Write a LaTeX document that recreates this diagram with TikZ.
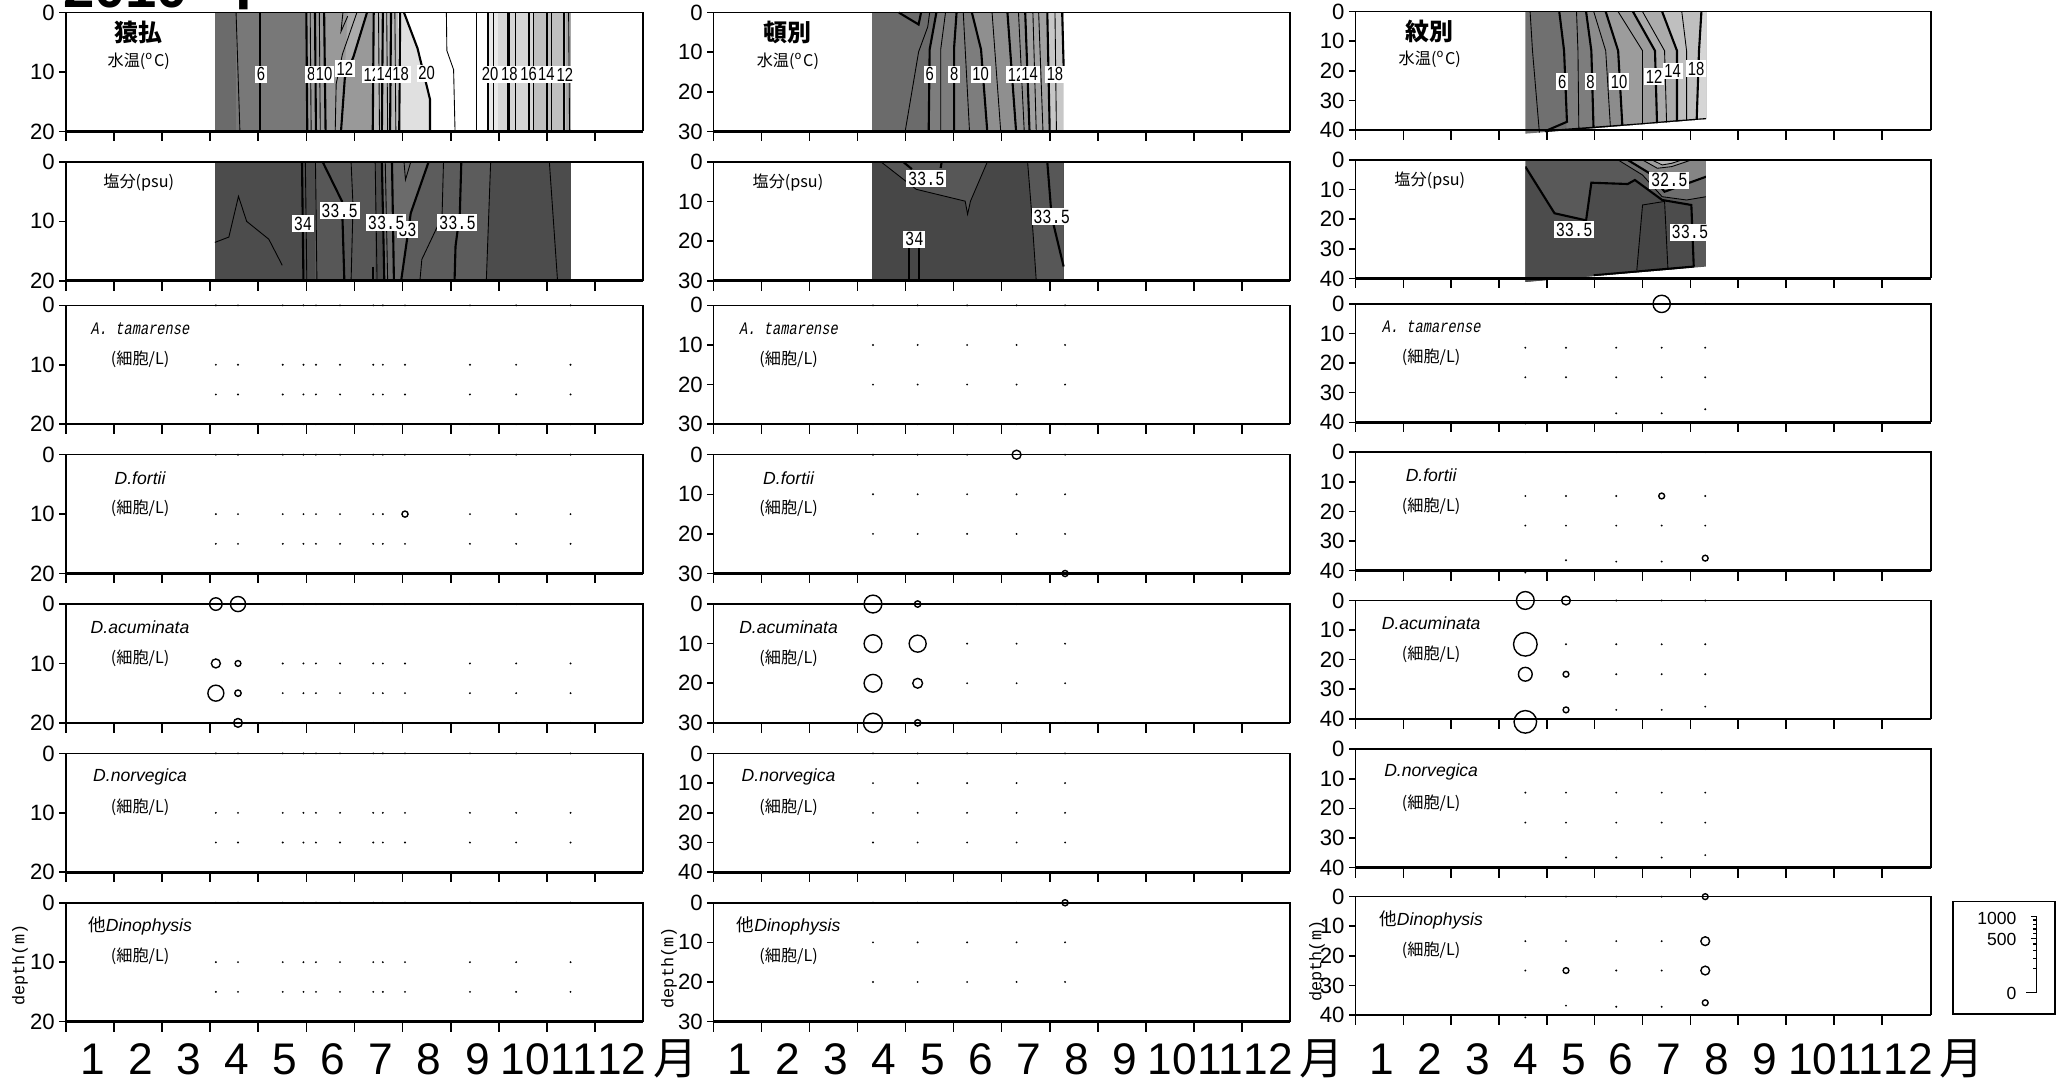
\documentclass[tikz,border=0pt]{standalone}
\usepackage{fontspec}
\setmainfont{Liberation Sans}
\newfontfamily\jpfont{Noto Sans CJK JP}
\newfontfamily\monofont{Liberation Mono}
\newfontfamily\narrowsans[FakeStretch=0.78]{Liberation Sans}
\newfontfamily\narrowmono[FakeStretch=0.76]{Liberation Mono}
\newfontfamily\slantmono[FakeStretch=0.78,FakeSlant=0.18]{Liberation Mono}

% sampling dates (month position) of each station
\def\datesA{3.12,3.58,4.51,4.94,5.20,5.70,6.39,6.59,7.05,8.40,9.36,10.49}
\def\datesB{3.32,4.25,5.28,6.31,7.32}
\def\datesC{3.55,4.40,5.45,6.40,7.31}

\begin{document}
\begin{tikzpicture}[x=0.13276mm,y=-0.13276mm,
  frame/.style={line width=0.45pt},
  baseaxis/.style={line width=0.75pt},
  ticklab/.style={font=\fontsize{6.3}{7}\selectfont,inner sep=1pt},
  scalelab/.style={font=\fontsize{5}{6}\selectfont,inner sep=1pt,anchor=east},
  station/.style={font=\jpfont\bfseries\fontsize{6.8}{7}\selectfont},
  unitlab/.style={font=\jpfont\fontsize{4.6}{6}\selectfont},
  species/.style={font=\fontsize{5}{6}\selectfont\itshape},
  monospecies/.style={font=\slantmono\fontsize{5}{6}\selectfont},
  tlab/.style={fill=white,inner sep=0.5pt,font=\narrowsans\fontsize{5.4}{6}\selectfont},
  slab/.style={fill=white,inner sep=0.5pt,font=\narrowmono\fontsize{5.7}{6}\selectfont},
  monthlab/.style={font=\fontsize{12.6}{14}\selectfont,inner sep=0pt,anchor=base},
  cthick/.style={line width=0.6pt},
  cthin/.style={line width=0.25pt},
  bubble/.style={draw=black,line width=0.4pt,fill=white},
  colA/.style={shift={(49.5,#1)},x=4.8126mm,y=-11.882mm},
  colB/.style={shift={(537.5,#1)},x=4.802mm,y=-11.882mm},
  colC/.style={shift={(1021,#1)},x=4.785mm,y=-11.842mm}]
\useasboundingbox (0,0) rectangle (1560,816);
\clip (0,0) rectangle (1560,816);

% year, cut by the top edge
\node[font=\bfseries\fontsize{16}{18}\selectfont,anchor=base west,inner sep=0] (year) at (47,6) {2010};
\node[font=\jpfont\bfseries\fontsize{16}{18}\selectfont,anchor=base,inner sep=0] (nen) at (181,3.5) {年};

% ---------- 猿払 水温 ----------
\begin{scope}[colA=9.5]
  \fill[black!58] (3.10,0) rectangle (3.54,1);
  \fill[black!53] (3.54,0) rectangle (5.0,1);
  \fill[black!40] (5.0,0) rectangle (6.40,1);
  \fill[black!33] (5.86,0) -- (6.26,0) -- (5.98,.37) -- (5.80,.5) -- cycle;
  \fill[black!28] (6.40,0) rectangle (6.90,1);
  \fill[black!12] (6.90,0) -- (7.03,0) -- (7.31,.3) -- (7.57,.73) -- (7.57,1) -- (6.90,1) -- cycle;
  \fill[black!9] (8.79,0) rectangle (8.99,1);
  \fill[black!16] (8.99,0) rectangle (9.72,1);
  \fill[black!25] (9.72,0) rectangle (10.40,1);
  \fill[black!34] (10.40,0) rectangle (10.50,1);
  \foreach \a/\b in {3.54/3.62,5.08/5.10,5.27/5.29,6.50/6.52,6.67/6.69,6.84/6.86,8.54/8.54,8.88/8.88,9.34/9.34,9.72/9.72,10.10/10.10,10.45/10.47}
    \draw[cthin] (\a,0) -- (\b,1);
  \foreach \a/\b in {4.04/4.04,5.0/5.02,5.18/5.20,5.37/5.40,6.40/6.38,6.59/6.57,6.76/6.74,6.95/6.93,8.77/8.77,9.20/9.20,9.62/9.62,10.0/10.0,10.35/10.35}
    \draw[cthick] (\a,0) -- (\b,1);
  \draw[cthick] (6.26,0) -- (5.98,.37) -- (5.80,.55) -- (5.72,1);
  \draw[cthin] (6.05,0) -- (5.75,.35) -- (5.62,.6) -- (5.60,1);
  \draw[cthick] (7.03,0) -- (7.31,.3) -- (7.57,.73) -- (7.57,1);
  \draw[cthin] (7.91,0) -- (7.92,.32) -- (8.06,.48) -- (8.09,1);
  \draw[cthin] (5.76,0) -- (5.72,.16) -- (5.86,.03);
  \node[tlab] (ta1) at (4.06,.52) {6};
  \node[tlab] (ta2) at (5.10,.52) {8};
  \node[tlab] (ta3) at (5.37,.52) {10};
  \node[tlab] (ta4) at (5.80,.47) {12};
  \node[tlab] (ta5) at (6.36,.52) {12};
  \node[tlab] (ta6) at (6.63,.52) {14};
  \node[tlab] (ta7) at (6.96,.52) {18};
  \node[tlab] (ta8) at (7.50,.51) {20};
  \node[tlab] (ta9) at (8.82,.52) {20};
  \node[tlab] (ta10) at (9.22,.52) {18};
  \node[tlab] (ta11) at (9.62,.52) {16};
  \node[tlab] (ta12) at (9.99,.52) {14};
  \node[tlab] (ta13) at (10.37,.52) {12};
\end{scope}

% ---------- 猿払 塩分 ----------
\begin{scope}[colA=122]
  \fill[black!70] (3.10,0) rectangle (10.50,1);
  \fill[black!66] (5.19,0) rectangle (6.43,1);
  \fill[black!58] (6.57,0) -- (7.54,0) -- (7.17,.43) -- (6.97,1) -- (6.60,1) -- cycle;
  \fill[black!64] (7.54,0) -- (8.83,0) -- (8.74,1) -- (6.97,1) -- (7.17,.43) -- cycle;
  \draw[cthin] (3.10,.677) -- (3.39,.632) -- (3.59,.289) -- (3.76,.50) -- (4.22,.65) -- (4.50,.87);
  \foreach \a/\b in {4.98/5.01,5.19/5.22,6.43/6.47,6.64/6.69,8.83/8.74,10.05/10.22}
    \draw[cthin] (\a,0) -- (\b,1);
  \foreach \a/\b in {4.91/4.94,6.57/6.62,6.78/6.82}
    \draw[cthick] (\a,0) -- (\b,1);
  \draw[cthick] (5.34,0) -- (5.74,.33) -- (5.79,1);
  \draw[cthin] (5.93,0) -- (5.97,.37) -- (5.93,1);
  \draw[cthin] (7.03,0) -- (7.06,.15) -- (7.17,0);
  \draw[cthick] (7.54,0) -- (7.17,.43) -- (6.97,1);
  \draw[cthin] (7.85,0) -- (7.82,.46) -- (7.40,.82) -- (7.36,1);
  \draw[cthick] (8.22,0) -- (8.19,.43) -- (8.10,.71) -- (8.08,1);
  \draw[cthick] (6.39,.88) -- (6.39,1);
  \node[slab] (sa1) at (4.93,.52) {34};
  \node[slab] (sa2) at (5.69,.41) {33.5};
  \node[slab] (sa3) at (7.10,.57) {33};
  \node[slab] (sa4) at (6.66,.51) {33.5};
  \node[slab] (sa5) at (8.14,.51) {33.5};
\end{scope}

% ---------- 頓別 水温 ----------
\begin{scope}[colB=9.5]
  \fill[black!58] (3.30,0) -- (4.64,0) -- (4.50,.31) -- (4.48,1) -- (3.30,1) -- cycle;
  \fill[black!51] (4.64,0) -- (5.38,0) -- (5.57,.31) -- (5.70,1) -- (4.48,1) -- (4.50,.31) -- cycle;
  \fill[black!44] (5.38,0) -- (6.49,0) -- (6.58,1) -- (5.70,1) -- (5.57,.31) -- cycle;
  \fill[black!37] (6.49,0) -- (6.95,0) -- (7.0,1) -- (6.58,1) -- cycle;
  \fill[black!22] (6.95,0) -- (7.29,0) -- (7.29,1) -- (7.0,1) -- cycle;
  \draw[cthick] (3.86,0) -- (4.27,.10) -- (4.32,0);
  \draw[cthin] (4.50,0) -- (4.46,.12) -- (4.27,.33) -- (3.99,1);
  \draw[cthick] (4.64,0) -- (4.50,.31) -- (4.48,1);
  \draw[cthin] (4.83,0) -- (4.73,.31) -- (4.73,1);
  \draw[cthick] (5.06,0) -- (5.01,.29) -- (5.01,1);
  \draw[cthick] (5.38,0) -- (5.57,.31) -- (5.70,1);
  \foreach \a/\b in {5.20/5.33,5.80/5.98,6.35/6.47,6.65/6.72,6.77/6.86,7.11/7.14}
    \draw[cthin] (\a,0) -- (\b,1);
  \foreach \a/\b in {6.12/6.30,6.49/6.58,6.95/7.0}
    \draw[cthick] (\a,0) -- (\b,1);
  \draw[cthick] (7.26,0) -- (7.29,.45);
  \node[tlab] (tb1) at (4.50,.52) {6};
  \node[tlab] (tb2) at (5.01,.52) {8};
  \node[tlab] (tb3) at (5.56,.52) {10};
  \node[tlab] (tb4) at (6.30,.52) {12};
  \node[tlab] (tb5) at (6.58,.52) {14};
  \node[tlab] (tb6) at (7.11,.52) {18};
\end{scope}

% ---------- 頓別 塩分 ----------
\begin{scope}[colB=122]
  \fill[black!72] (3.30,0) rectangle (7.29,1);
  \fill[black!66] (3.49,0) -- (4.22,.23) -- (5.24,.33) -- (5.29,.44) -- (5.35,.33) -- (5.70,0) -- cycle;
  \fill[black!66] (6.54,0) -- (6.63,.46) -- (6.72,1) -- (7.29,1) -- (7.29,0) -- cycle;
  \draw[cthin] (3.49,0) -- (4.22,.23) -- (5.24,.33) -- (5.29,.44) -- (5.35,.33) -- (5.70,0);
  \draw[cthick] (3.95,0) -- (4.13,.06);
  \draw[cthick] (4.75,0) -- (4.73,.05);
  \draw[cthick] (4.07,.68) -- (4.07,1);
  \draw[cthick] (4.27,.68) -- (4.27,1);
  \draw[cthin] (6.54,0) -- (6.63,.46) -- (6.72,1);
  \draw[cthick] (6.95,0) -- (7.04,.46) -- (7.29,.88);
  \node[slab] (sb1) at (4.43,.14) {33.5};
  \node[slab] (sb2) at (4.18,.65) {34};
  \node[slab] (sb3) at (7.04,.46) {33.5};
\end{scope}

% ---------- 紋別 水温 ----------
\begin{scope}[colC=8.8]
  \begin{scope}
    \clip (3.55,0) -- (7.33,0) -- (7.33,.907) -- (3.55,1.03) -- cycle;
    \fill[black!56] (3.55,0) rectangle (7.33,1.1);
    \fill[black!51] (4.26,0) -- (4.36,.33) -- (4.42,1.1) -- (7.4,1.1) -- (7.4,0) -- cycle;
    \fill[black!45] (4.82,0) -- (4.93,.33) -- (4.98,1.1) -- (7.4,1.1) -- (7.4,0) -- cycle;
    \fill[black!39] (5.23,0) -- (5.49,.33) -- (5.59,1.1) -- (7.4,1.1) -- (7.4,0) -- cycle;
    \fill[black!33] (5.80,0) -- (6.26,.33) -- (6.31,1.1) -- (7.4,1.1) -- (7.4,0) -- cycle;
    \fill[black!25] (6.41,0) -- (6.72,.33) -- (6.72,1.1) -- (7.4,1.1) -- (7.4,0) -- cycle;
    \fill[black!16] (7.23,0) -- (7.18,.33) -- (7.12,1.1) -- (7.4,1.1) -- (7.4,0) -- cycle;
    \foreach \a/\b/\c in {3.65/3.70/3.85,4.62/4.65/4.67,4.98/5.23/5.34,5.49/6.00/6.00,6.00/6.46/6.51,6.82/6.92/6.92}
      \draw[cthin] (\a,0) -- (\b,.33) -- (\c,1.05);
    \foreach \a/\b/\c in {4.82/4.93/4.98,5.23/5.49/5.59,5.80/6.26/6.31,6.41/6.72/6.72,7.23/7.18/7.12}
      \draw[cthick] (\a,0) -- (\b,.33) -- (\c,1.05);
    \draw[cthick] (4.26,0) -- (4.36,.33) -- (4.42,.93) -- (3.96,1.01);
    \draw[cthick] (3.96,1.01) -- (4.98,.98) -- (6.00,.95) -- (6.72,.925) -- (7.33,.907);
  \end{scope}
  \node[tlab] (tc1) at (4.32,.59) {6};
  \node[tlab] (tc2) at (4.91,.59) {8};
  \node[tlab] (tc3) at (5.51,.59) {10};
  \node[tlab] (tc4) at (6.24,.55) {12};
  \node[tlab] (tc5) at (6.63,.50) {14};
  \node[tlab] (tc6) at (7.12,.48) {18};
\end{scope}

% ---------- 紋別 塩分 ----------
\begin{scope}[colC=120.5]
  \begin{scope}
    \clip (3.55,0) -- (7.33,0) -- (7.33,.90) -- (3.55,1.03) -- cycle;
    \fill[black!65] (3.55,0) rectangle (7.33,1.1);
    \fill[black!70] (3.55,.056) -- (4.16,.45) -- (4.82,.51) -- (4.93,.192) -- (5.69,.203) -- (5.84,.169) -- (6.41,.338) -- (7.02,.38) -- (7.07,.90) -- (3.55,1.1) -- cycle;
    \fill[black!73] (5.88,.93) -- (6.00,.38) -- (6.46,.35) -- (6.53,.915) -- cycle;
    \fill[black!57] (5.49,0) -- (6.00,.127) -- (6.41,.31) -- (6.92,.338) -- (7.33,.31) -- (7.33,0) -- cycle;
    \fill[black!48] (5.69,0) -- (6.15,.113) -- (6.46,.268) -- (7.33,.141) -- (7.33,0) -- cycle;
    \fill[black!38] (6.00,0) -- (6.31,.07) -- (6.61,.056) -- (7.02,0) -- cycle;
    \fill[black!28] (6.20,0) -- (6.41,.042) -- (6.61,.028) -- (6.82,0) -- cycle;
    \draw[cthick] (3.55,.056) -- (4.16,.45) -- (4.82,.51) -- (4.93,.192) -- (5.69,.203) -- (5.84,.169) -- (6.41,.338) -- (7.02,.38) -- (7.07,.90);
    \draw[cthick] (4.98,.974) -- (7.07,.90);
    \draw[cthin] (5.88,.93) -- (6.00,.38) -- (6.46,.35) -- (6.53,.915);
    \draw[cthin] (5.49,0) -- (6.00,.127) -- (6.41,.31) -- (6.92,.338) -- (7.33,.31);
    \draw[cthick] (5.69,0) -- (6.15,.113) -- (6.46,.268) -- (7.33,.141);
    \draw[cthin] (6.00,0) -- (6.31,.07) -- (6.61,.056) -- (7.02,0);
    \draw[cthin] (6.20,0) -- (6.41,.042) -- (6.61,.028) -- (6.82,0);
  \end{scope}
  \node[slab] (sc1) at (6.56,.17) {32.5};
  \node[slab] (sc2) at (4.57,.59) {33.5};
  \node[slab] (sc3) at (6.99,.61) {33.5};
\end{scope}

% ---------- cell counts: 猿払 ----------
\foreach \ry in {230,342.5,567.5,680} {
  \begin{scope}[colA=\ry]
    \foreach \m in \datesA \foreach \f in {0,.5,.75,1} \fill (\m,\f) circle[radius=.3pt];
  \end{scope}
}
\begin{scope}[colA=342.5]
  \draw[bubble] (7.05,.5) circle[radius=.87pt];
\end{scope}
\begin{scope}[colA=455]
  \foreach \m in \datesA \foreach \f in {0,1} \fill (\m,\f) circle[radius=.3pt];
  \foreach \m in {4.51,4.94,5.20,5.70,6.39,6.59,7.05,8.40,9.36,10.49} \foreach \f in {.5,.75} \fill (\m,\f) circle[radius=.3pt];
  \foreach \m/\f/\r in {3.12/0/1.78,3.58/0/2.15,3.12/.5/1.28,3.58/.5/.83,3.12/.75/2.27,3.58/.75/.91,3.58/1/1.25}
    \draw[bubble] (\m,\f) circle[radius=\r pt];
\end{scope}

% ---------- cell counts: 頓別 ----------
\foreach \ry in {230,342.5,680} {
  \begin{scope}[colB=\ry]
    \foreach \m in \datesB \foreach \f in {0,.3333,.6667,1} \fill (\m,\f) circle[radius=.3pt];
  \end{scope}
}
\begin{scope}[colB=342.5]
  \draw[bubble] (6.31,0) circle[radius=1.28pt];
  \draw[bubble] (7.32,1) circle[radius=.87pt];
\end{scope}
\begin{scope}[colB=455]
  \foreach \m in {5.28,6.31,7.32} \foreach \f in {0,.3333,.6667,1} \fill (\m,\f) circle[radius=.3pt];
  \foreach \m/\f/\r in {3.32/0/2.53,4.25/0/.91,3.32/.3333/2.53,4.25/.3333/2.42,3.32/.6667/2.53,4.25/.6667/1.4,3.32/1/2.72,4.25/1/.91}
    \draw[bubble] (\m,\f) circle[radius=\r pt];
\end{scope}
\begin{scope}[colB=567.5]
  \foreach \m in \datesB \foreach \f in {0,.25,.5,.75,1} \fill (\m,\f) circle[radius=.3pt];
\end{scope}
\begin{scope}[colB=680]
  \draw[bubble] (7.32,0) circle[radius=.87pt];
\end{scope}

% ---------- cell counts: 紋別 ----------
\begin{scope}[colC=228.9]
  \foreach \m in \datesC \foreach \f in {0,.37,.62} \fill (\m,\f) circle[radius=.3pt];
  \foreach \m/\f in {3.55/1.01,4.40/1,5.45/.924,6.40/.924,7.31/.89} \fill (\m,\f) circle[radius=.3pt];
  \draw[bubble] (6.40,0) circle[radius=2.46pt];
\end{scope}
\begin{scope}[colC=340.6]
  \foreach \m in \datesC \foreach \f in {0,.62} \fill (\m,\f) circle[radius=.3pt];
  \foreach \m/\f in {3.55/.37,4.40/.37,5.45/.37,7.31/.37,3.55/1.017,4.40/.913,5.45/.924,6.40/.924} \fill (\m,\f) circle[radius=.3pt];
  \draw[bubble] (6.40,.37) circle[radius=.83pt];
  \draw[bubble] (7.31,.895) circle[radius=.83pt];
\end{scope}
\begin{scope}[colC=452.3]
  \foreach \m/\f in {5.45/0,6.40/0,7.31/0,4.40/.37,5.45/.37,6.40/.37,7.31/.37,5.45/.623,6.40/.623,7.31/.623,5.45/.924,6.40/.924,7.31/.896}
    \fill (\m,\f) circle[radius=.3pt];
  \foreach \m/\f/\r in {3.55/0/2.53,4.40/0/1.25,3.55/.37/3.36,3.55/.623/1.96,4.40/.623/.83,4.40/.924/.83,3.55/1.025/3.21}
    \draw[bubble] (\m,\f) circle[radius=\r pt];
\end{scope}
\begin{scope}[colC=564.3]
  \foreach \m in \datesC \foreach \f in {0,.367,.62} \fill (\m,\f) circle[radius=.3pt];
  \foreach \m/\f in {3.55/1,4.40/.915,5.45/.915,6.40/.915,7.31/.895} \fill (\m,\f) circle[radius=.3pt];
\end{scope}
\begin{scope}[colC=675.4]
  \foreach \m/\f in {3.55/0,4.40/0,5.45/0,6.40/0,3.55/.376,4.40/.376,5.45/.376,6.40/.376,3.55/.624,5.45/.624,6.40/.624,4.40/.92,5.45/.93,6.40/.93,3.55/1.02}
    \fill (\m,\f) circle[radius=.3pt];
  \foreach \m/\f/\r in {7.31/0/.83,7.31/.376/1.25,4.40/.624/.83,7.31/.624/1.25,7.31/.896/.83}
    \draw[bubble] (\m,\f) circle[radius=\r pt];
\end{scope}

% ---------- frames, month ticks, depth ticks ----------
\foreach \ry in {9.5,122,230,342.5,455,567.5,680} {
  \draw[frame] (49.5,\ry+89.5) -- (49.5,\ry) -- (484.5,\ry) -- (484.5,\ry+89.5);
  \draw[baseaxis] (49.5,\ry+89.5) -- (484.5,\ry+89.5);
  \foreach \m in {0,...,11} \draw[frame] (49.5+\m*36.25,\ry+89.5) -- ++(0,7.5);
  \foreach \d in {0,10,20}
    \draw[frame] (49.5,\ry+\d*4.475) -- ++(-5,0) node[ticklab,left] {\d};
  \draw[frame] (537.5,\ry+89.5) -- (537.5,\ry) -- (971.5,\ry) -- (971.5,\ry+89.5);
  \draw[baseaxis] (537.5,\ry+89.5) -- (971.5,\ry+89.5);
  \foreach \m in {0,...,11} \draw[frame] (537.5+\m*36.17,\ry+89.5) -- ++(0,7.5);
}
\foreach \ry in {9.5,122,230,342.5,455,680}
  \foreach \d in {0,10,20,30}
    \draw[frame] (537.5,\ry+\d*2.98333) -- ++(-5,0) node[ticklab,left] {\d};
\foreach \d in {0,10,20,30,40}
  \draw[frame] (537.5,567.5+\d*2.2375) -- ++(-5,0) node[ticklab,left] {\d};
\foreach \ry in {8.8,120.5,228.9,340.6,452.3,564.3,675.4} {
  \draw[frame] (1021,\ry+89.2) -- (1021,\ry) -- (1454.5,\ry) -- (1454.5,\ry+89.2);
  \draw[baseaxis] (1021,\ry+89.2) -- (1454.5,\ry+89.2);
  \foreach \m in {0,...,11} \draw[frame] (1021+\m*36.04,\ry+89.2) -- ++(0,7.5);
  \foreach \d in {0,10,20,30,40}
    \draw[frame] (1021,\ry+\d*2.23) -- ++(-5,0) node[ticklab,left] {\d};
}

% ---------- panel texts ----------
\node[station] (sarufutsu) at (104,24.5) {猿払};
\node[station] (tonbetsu) at (593,24.5) {頓別};
\node[station] (monbetsu) at (1076.5,23.5) {紋別};
\foreach \cx/\tt/\st in {104.5/46/137.5,593.5/46/137.5,1077/45/136} {
  \node[unitlab] at (\cx,\tt) {水温(\textsuperscript{o}C)};
  \node[unitlab] at (\cx,\st) {塩分(psu)};
}
\foreach \cx/\ya/\yb/\yc/\yd/\ye in {105.5/230/342.5/455/567.5/680,594/230/342.5/455/567.5/680,1078/228.9/340.6/452.3/564.3/675.4} {
  \node[monospecies] at (\cx,\ya+17.5) {A. tamarense};
  \node[species] at (\cx,\yb+17.5) {D.fortii};
  \node[species] at (\cx,\yc+17.5) {D.acuminata};
  \node[species] at (\cx,\yd+17.5) {D.norvegica};
  \node[species] at (\cx,\ye+17.5) {{\jpfont 他}Dinophysis};
  \foreach \ry in {\ya,\yb,\yc,\yd,\ye}
    \node[unitlab] at (\cx,\ry+40.5) {(細胞/L)};
}
\node[rotate=90,font=\monofont\fontsize{4.8}{5}\selectfont] (depA) at (15,727) {depth(m)};
\node[rotate=90,font=\monofont\fontsize{4.8}{5}\selectfont] (depB) at (504,729) {depth(m)};
\node[rotate=90,font=\monofont\fontsize{4.8}{5}\selectfont] (depC) at (992,724) {depth(m)};

% ---------- month axis labels ----------
\foreach \cx/\cw/\cn in {51.5/36.25/a,539.5/36.17/b,1023/36.04/c} {
  \foreach \m in {1,...,12}
    \node[monthlab] (mon\cn\m) at (\cx+\m*\cw-0.5*\cw,809.5) {\m};
  \node[monthlab,anchor=base west,font=\jpfont\fontsize{12.6}{14}\selectfont] (yue\cn) at ([xshift=1.5pt]mon\cn12.base east) {月};
}

% ---------- bubble scale ----------
\draw[frame] (1471,679) rectangle (1548,764);
\draw[frame] (1534,747.5) -- (1534,690.2);
\foreach \v in {100,200,...,900}
  \draw[frame] (1534,{747.5-1.812*sqrt(\v)}) -- ++(-2.5,0);
\draw[frame] (1534,747.5) -- ++(-8,0);
\draw[frame] (1534,{747.5-1.812*sqrt(500)}) -- ++(-4.5,0);
\draw[frame] (1534,690.2) -- ++(-4.5,0);
\node[scalelab] (s1000) at (1522,692) {1000};
\node[scalelab] (s500) at (1522,708) {500};
\node[scalelab] (s0) at (1522,748.5) {0};
\end{tikzpicture}
\end{document}
